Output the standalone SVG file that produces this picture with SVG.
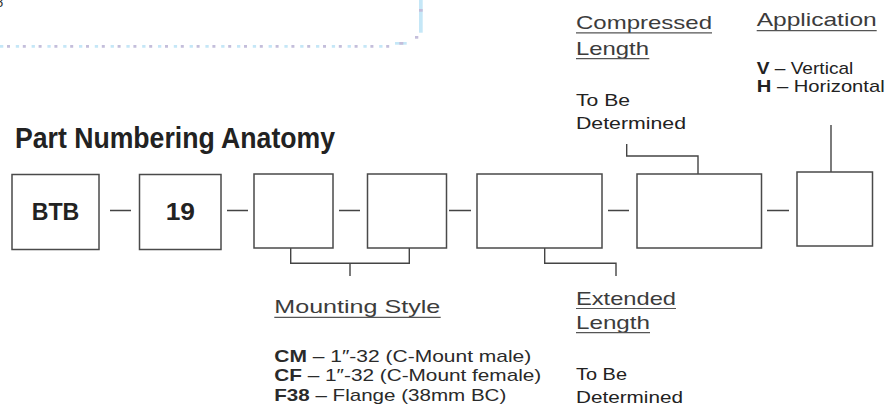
<svg xmlns="http://www.w3.org/2000/svg" width="890" height="408" viewBox="0 0 890 408">
<style>
  .box { fill: #fff; stroke: #4a4a4a; stroke-width: 1.5; }
  .ln { fill: none; stroke: #444; stroke-width: 1.4; }
  .ul { stroke: #555; stroke-width: 1.2; }
  .h { font-family: "Liberation Sans", Arial, sans-serif; font-size: 18.5px; fill: #3c3c3c; }
  .b { font-family: "Liberation Sans", Arial, sans-serif; font-size: 17px; fill: #222; }
  .m { font-family: "Liberation Sans", Arial, sans-serif; font-size: 17px; fill: #2a2a2a; }
  .bold { font-weight: bold; }
  .big { font-family: "Liberation Sans", Arial, sans-serif; font-weight: bold; font-size: 24px; fill: #222; }
  .title { font-family: "Liberation Sans Narrow", "Liberation Sans", Arial, sans-serif; font-weight: bold; font-size: 29px; fill: #222; }
</style>
<rect width="890" height="408" fill="#fff"/>

<g id="frame-fragment">
  <text x="-4.5" y="7" font-family="Liberation Sans, sans-serif" font-size="14" fill="#333">8</text>
  <line x1="0" y1="46.3" x2="392" y2="46.3" stroke="#c5e7f7" stroke-width="2.7" stroke-dasharray="3.3 12.5"/>
  <line x1="7" y1="46.3" x2="392" y2="46.3" stroke="#c4bedb" stroke-width="2.7" stroke-dasharray="3 12.8"/>
  <rect x="395" y="42" width="11.7" height="2.7" fill="#c5e7f7"/>
  <rect x="399.3" y="42" width="4" height="2.7" fill="#c4bedb"/>
  <rect x="415" y="36" width="3.3" height="2.7" fill="#c4bedb"/>
  <rect x="419" y="0" width="3.7" height="32.7" fill="#c5e7f7"/>
  <rect x="419" y="9" width="3.7" height="2.7" fill="#c4bedb"/>
</g>

<g id="title">
  <text class="title" x="15" y="147.7" textLength="320" lengthAdjust="spacingAndGlyphs">Part Numbering Anatomy</text>
</g>

<g id="connectors">
  <path class="ln" d="M110 210.5 H131 M227 210.5 H248 M339 210.5 H360 M449 210.5 H471 M608 210.5 H629 M767 210.5 H789"/>
  <path class="ln" d="M290.7 248 V263.3 H409.3 V248 M350 263.3 V276"/>
  <path class="ln" d="M544.7 248 V263.3 H616 V276"/>
  <path class="ln" d="M698 174 V156 H626.7 V144"/>
  <path class="ln" d="M831 172 V125"/>
</g>

<g id="node-btb">
  <rect class="box" x="12" y="174.5" width="87" height="75"/>
  <text class="big" x="31.7" y="220" textLength="47.6" lengthAdjust="spacingAndGlyphs">BTB</text>
</g>
<g id="node-19">
  <rect class="box" x="139.5" y="174.5" width="81.5" height="75"/>
  <text class="big" x="165.7" y="220" textLength="29.3" lengthAdjust="spacingAndGlyphs">19</text>
</g>
<g id="node-mount1"><rect class="box" x="254" y="174" width="79" height="74"/></g>
<g id="node-mount2"><rect class="box" x="367.5" y="174" width="79" height="74"/></g>
<g id="node-extended"><rect class="box" x="477" y="174" width="125" height="74"/></g>
<g id="node-compressed"><rect class="box" x="637" y="174" width="124.5" height="74"/></g>
<g id="node-application"><rect class="box" x="797" y="172" width="75.5" height="74"/></g>

<g id="label-compressed">
  <text class="h" x="576" y="29.3" textLength="136" lengthAdjust="spacingAndGlyphs">Compressed</text>
  <line class="ul" x1="576" y1="32.8" x2="712" y2="32.8"/>
  <text class="h" x="576" y="55" textLength="73" lengthAdjust="spacingAndGlyphs">Length</text>
  <line class="ul" x1="576" y1="58.6" x2="649.3" y2="58.6"/>
  <text class="b" x="576" y="106" textLength="54" lengthAdjust="spacingAndGlyphs">To Be</text>
  <text class="b" x="576" y="129.3" textLength="110" lengthAdjust="spacingAndGlyphs">Determined</text>
</g>

<g id="label-application">
  <text class="h" x="756.7" y="26" textLength="120" lengthAdjust="spacingAndGlyphs">Application</text>
  <line class="ul" x1="756.7" y1="30.6" x2="876.7" y2="30.6"/>
  <text class="b" x="756.7" y="74" textLength="96.6" lengthAdjust="spacingAndGlyphs"><tspan class="bold">V</tspan> – Vertical</text>
  <text class="b" x="756.7" y="92" textLength="128" lengthAdjust="spacingAndGlyphs"><tspan class="bold">H</tspan> – Horizontal</text>
</g>

<g id="label-mounting">
  <text class="h" x="274.3" y="313.3" textLength="166" lengthAdjust="spacingAndGlyphs">Mounting Style</text>
  <line class="ul" x1="274.3" y1="317.3" x2="440.7" y2="317.3"/>
  <text class="m" x="274.3" y="361.7" textLength="257" lengthAdjust="spacingAndGlyphs"><tspan class="bold">CM</tspan> – 1″-32 (C-Mount male)</text>
  <text class="m" x="274.3" y="381" textLength="267" lengthAdjust="spacingAndGlyphs"><tspan class="bold">CF</tspan> – 1″-32 (C-Mount female)</text>
  <text class="m" x="274.3" y="400.7" textLength="232" lengthAdjust="spacingAndGlyphs"><tspan class="bold">F38</tspan> – Flange (38mm BC)</text>
</g>

<g id="label-extended">
  <text class="h" x="576" y="305.3" textLength="100" lengthAdjust="spacingAndGlyphs">Extended</text>
  <line class="ul" x1="576" y1="308.5" x2="676" y2="308.5"/>
  <text class="h" x="576" y="329.3" textLength="74" lengthAdjust="spacingAndGlyphs">Length</text>
  <line class="ul" x1="576" y1="332.6" x2="650" y2="332.6"/>
  <text class="b" x="576" y="380" textLength="51" lengthAdjust="spacingAndGlyphs">To Be</text>
  <text class="b" x="576" y="403.3" textLength="107" lengthAdjust="spacingAndGlyphs">Determined</text>
</g>
</svg>
